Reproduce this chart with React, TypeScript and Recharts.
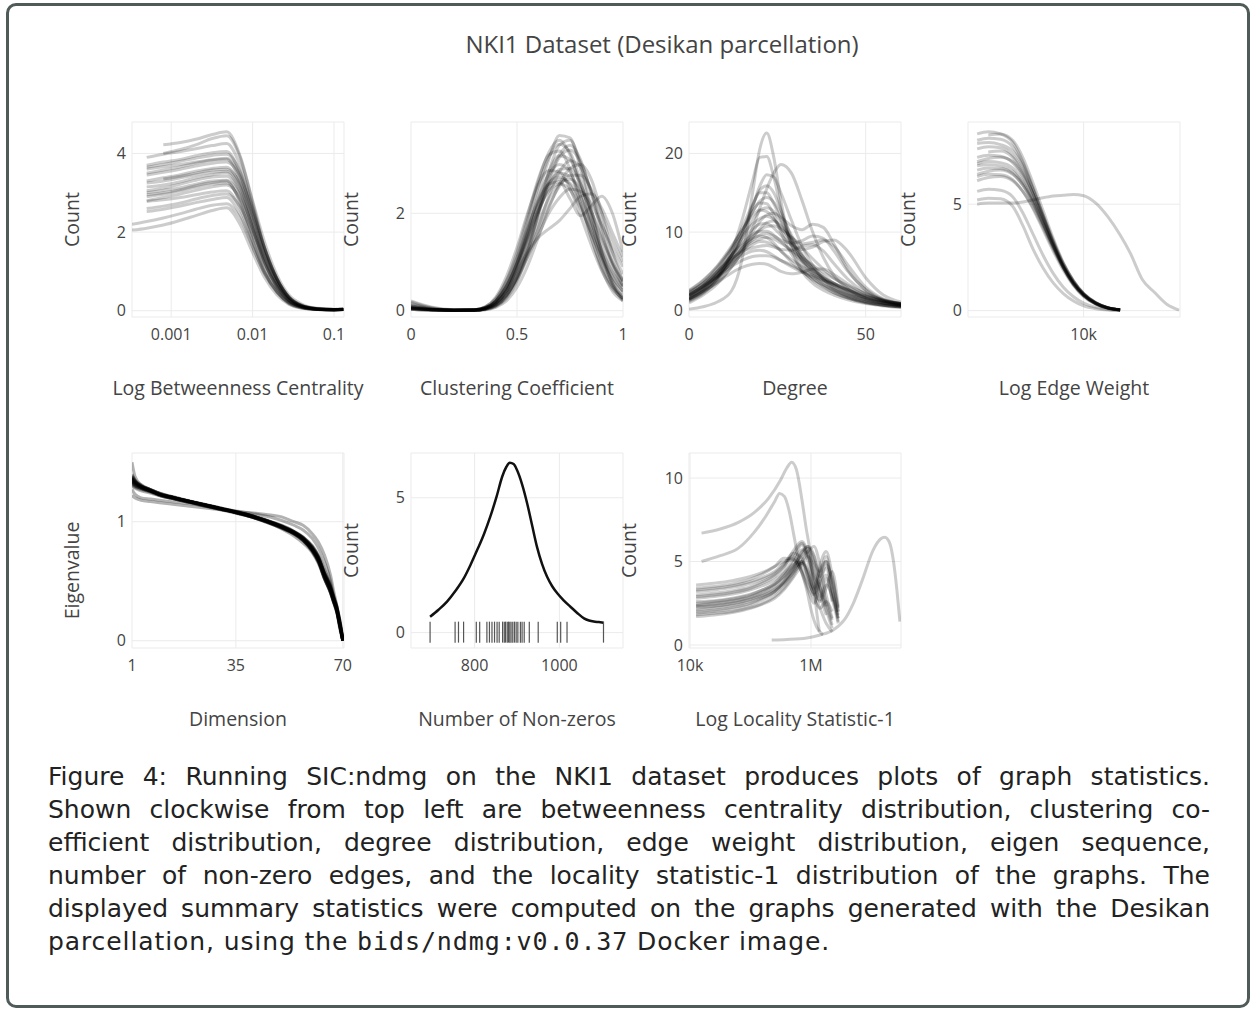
import React from 'react';
import { ComposedChart, XAxis, YAxis, CartesianGrid, Line, Scatter } from 'recharts';

// Log Betweenness Centrality
const betweennessX = [0.00033, 0.0005, 0.0008, 0.0013, 0.002, 0.0032, 0.0048, 0.007, 0.01, 0.014, 0.02, 0.028, 0.04, 0.063, 0.1, 0.13];
const betweennessCounts: (number | null)[][] = [
  [null, null, 4.22, 4.28, 4.36, 4.48, 4.55, 3.95, 2.8, 1.75, 0.9, 0.4, 0.17, 0.06, 0.04, 0.05],
  [null, null, 4.0, 4.1, 4.22, 4.38, 4.45, 3.9, 2.75, 1.6, 0.8, 0.35, 0.14, 0.05, 0.03, 0.04],
  [null, 3.7, 3.78, 3.85, 3.94, 4.02, 4.05, 3.5, 2.45, 1.45, 0.72, 0.3, 0.12, 0.05, 0.03, 0.04],
  [null, 3.65, 3.72, 3.8, 3.88, 3.95, 3.98, 3.55, 2.6, 1.6, 0.8, 0.33, 0.13, 0.05, 0.03, 0.03],
  [null, 3.5, 3.58, 3.66, 3.75, 3.83, 3.85, 3.3, 2.3, 1.35, 0.66, 0.27, 0.11, 0.04, 0.03, 0.04],
  [null, 3.45, 3.52, 3.6, 3.68, 3.75, 3.78, 3.4, 2.5, 1.55, 0.8, 0.34, 0.13, 0.05, 0.03, 0.04],
  [null, 3.3, 3.38, 3.46, 3.55, 3.62, 3.65, 3.2, 2.2, 1.25, 0.6, 0.25, 0.1, 0.04, 0.02, 0.03],
  [null, 3.25, 3.3, 3.38, 3.46, 3.52, 3.55, 3.15, 2.3, 1.45, 0.75, 0.32, 0.12, 0.04, 0.03, 0.04],
  [null, 3.05, 3.12, 3.22, 3.32, 3.4, 3.42, 3.0, 2.1, 1.25, 0.62, 0.26, 0.1, 0.04, 0.03, 0.03],
  [null, 3.0, 3.06, 3.13, 3.22, 3.3, 3.32, 2.95, 2.15, 1.35, 0.7, 0.3, 0.11, 0.04, 0.02, 0.03],
  [null, 2.9, 2.96, 3.05, 3.14, 3.22, 3.25, 2.8, 1.9, 1.1, 0.55, 0.22, 0.09, 0.03, 0.02, 0.03],
  [null, 2.8, 2.88, 2.97, 3.06, 3.15, 3.2, 2.85, 2.05, 1.3, 0.68, 0.28, 0.1, 0.04, 0.03, 0.03],
  [null, 2.78, 2.82, 2.88, 2.95, 3.02, 3.05, 2.6, 1.75, 1.0, 0.5, 0.2, 0.08, 0.03, 0.02, 0.03],
  [null, 2.6, 2.66, 2.74, 2.84, 2.93, 2.97, 2.65, 1.95, 1.2, 0.62, 0.26, 0.1, 0.04, 0.02, 0.03],
  [null, 2.52, 2.58, 2.66, 2.75, 2.83, 2.88, 2.45, 1.65, 0.95, 0.47, 0.19, 0.08, 0.03, 0.02, 0.03],
  [2.2, 2.27, 2.36, 2.47, 2.58, 2.68, 2.72, 2.35, 1.62, 0.95, 0.46, 0.18, 0.07, 0.03, 0.02, 0.03],
  [2.05, 2.1, 2.18, 2.3, 2.42, 2.55, 2.62, 2.2, 1.48, 0.85, 0.4, 0.16, 0.06, 0.03, 0.02, 0.03],
  [null, 3.9, 3.98, 4.05, 4.12, 4.2, 4.25, 3.7, 2.65, 1.6, 0.8, 0.34, 0.14, 0.05, 0.03, 0.04],
  [null, 3.6, 3.66, 3.72, 3.78, 3.84, 3.88, 3.45, 2.55, 1.6, 0.82, 0.35, 0.13, 0.05, 0.03, 0.04],
  [null, 3.15, 3.2, 3.28, 3.38, 3.46, 3.5, 3.05, 2.1, 1.2, 0.6, 0.25, 0.1, 0.04, 0.02, 0.03],
  [null, null, 3.35, 3.42, 3.5, 3.58, 3.6, 3.25, 2.4, 1.5, 0.78, 0.33, 0.12, 0.04, 0.03, 0.04],
  [null, 2.95, 3.0, 3.08, 3.18, 3.26, 3.3, 2.75, 1.8, 1.0, 0.48, 0.2, 0.08, 0.03, 0.02, 0.03],
];

// Clustering Coefficient
const clusteringX = [0, 0.1, 0.2, 0.3, 0.35, 0.4, 0.45, 0.5, 0.55, 0.6, 0.65, 0.7, 0.75, 0.8, 0.85, 0.9, 0.95, 1.0];
const clusteringCounts: number[][] = [
  [0.05, 0.02, 0.01, 0.01, 0.04, 0.15, 0.4, 0.9, 1.6, 2.4, 3.1, 3.6, 3.55, 2.9, 2.0, 1.2, 0.6, 0.25],
  [0.1, 0.03, 0.01, 0.02, 0.06, 0.2, 0.55, 1.1, 1.85, 2.65, 3.25, 3.5, 3.2, 2.5, 1.7, 1.0, 0.5, 0.22],
  [0.04, 0.02, 0.01, 0.01, 0.03, 0.1, 0.3, 0.7, 1.3, 2.0, 2.7, 3.2, 3.4, 3.1, 2.4, 1.6, 0.95, 0.5],
  [0.18, 0.06, 0.01, 0.02, 0.08, 0.25, 0.62, 1.2, 1.95, 2.7, 3.2, 3.28, 2.9, 2.2, 1.5, 0.9, 0.5, 0.3],
  [0.06, 0.02, 0.01, 0.01, 0.04, 0.14, 0.4, 0.85, 1.5, 2.2, 2.85, 3.18, 3.1, 2.6, 1.95, 1.3, 0.8, 0.45],
  [0.03, 0.01, 0.01, 0.01, 0.03, 0.1, 0.28, 0.62, 1.1, 1.7, 2.35, 2.85, 3.08, 2.95, 2.45, 1.8, 1.2, 0.75],
  [0.12, 0.04, 0.01, 0.02, 0.06, 0.2, 0.5, 1.0, 1.65, 2.3, 2.8, 3.0, 2.85, 2.35, 1.75, 1.15, 0.7, 0.4],
  [0.05, 0.02, 0.01, 0.01, 0.05, 0.15, 0.4, 0.82, 1.4, 2.0, 2.55, 2.9, 2.92, 2.6, 2.05, 1.45, 0.95, 0.6],
  [0.08, 0.03, 0.01, 0.02, 0.06, 0.2, 0.5, 0.98, 1.55, 2.15, 2.6, 2.83, 2.75, 2.35, 1.8, 1.25, 0.8, 0.5],
  [0.04, 0.02, 0.01, 0.01, 0.04, 0.12, 0.32, 0.68, 1.15, 1.65, 2.15, 2.55, 2.78, 2.78, 2.5, 2.0, 1.45, 1.0],
  [0.15, 0.05, 0.01, 0.02, 0.07, 0.24, 0.6, 1.1, 1.7, 2.25, 2.62, 2.75, 2.58, 2.15, 1.6, 1.05, 0.62, 0.35],
  [0.05, 0.02, 0.01, 0.01, 0.04, 0.13, 0.36, 0.75, 1.25, 1.8, 2.3, 2.6, 2.7, 2.5, 2.05, 1.5, 1.0, 0.62],
  [0.07, 0.02, 0.01, 0.02, 0.06, 0.2, 0.5, 0.95, 1.5, 2.05, 2.45, 2.6, 2.48, 2.1, 1.6, 1.1, 0.68, 0.4],
  [0.04, 0.02, 0.01, 0.01, 0.04, 0.12, 0.32, 0.66, 1.1, 1.55, 2.0, 2.32, 2.5, 2.45, 2.2, 1.75, 1.3, 0.9],
  [0.06, 0.02, 0.01, 0.01, 0.05, 0.18, 0.45, 0.95, 1.6, 2.2, 2.6, 2.65, 2.3, 1.95, 2.15, 2.35, 2.0, 1.2],
  [0.1, 0.03, 0.01, 0.02, 0.05, 0.16, 0.4, 0.8, 1.2, 1.5, 1.68, 1.85, 2.1, 2.35, 2.4, 2.1, 1.6, 1.1],
  [0.03, 0.01, 0.01, 0.01, 0.02, 0.08, 0.25, 0.6, 1.2, 2.0, 2.85, 3.4, 3.5, 3.0, 2.1, 1.2, 0.55, 0.2],
  [0.05, 0.02, 0.01, 0.01, 0.03, 0.1, 0.3, 0.68, 1.25, 1.95, 2.65, 3.15, 3.3, 3.05, 2.45, 1.7, 1.0, 0.52],
  [0.2, 0.07, 0.02, 0.02, 0.08, 0.28, 0.7, 1.3, 2.0, 2.6, 2.88, 2.85, 2.5, 1.95, 1.35, 0.82, 0.45, 0.25],
  [0.03, 0.01, 0.01, 0.01, 0.02, 0.07, 0.2, 0.48, 0.92, 1.5, 2.1, 2.6, 2.92, 3.0, 2.7, 2.0, 1.2, 0.6],
  [0.06, 0.02, 0.01, 0.01, 0.05, 0.16, 0.42, 0.88, 1.45, 2.05, 2.5, 2.7, 2.62, 2.2, 1.5, 0.85, 0.4, 0.2],
  [0.08, 0.03, 0.01, 0.01, 0.05, 0.18, 0.48, 1.0, 1.75, 2.55, 3.15, 3.42, 3.25, 2.65, 1.85, 1.1, 0.55, 0.25],
];

// Degree
const degreeX = [0, 4, 8, 12, 15, 18, 20, 22, 24, 26, 29, 32, 35, 38, 41, 45, 50, 55, 60];
const degreeCounts: number[][] = [
  [0.2, 0.5, 1.1, 2.5, 6.5, 15, 20.5, 22.6, 19.5, 14, 8, 5, 3.5, 2.6, 2.0, 1.4, 0.9, 0.6, 0.4],
  [1.2, 2.2, 4.0, 7.5, 11.5, 16.5, 19.5, 19.6, 17.0, 13.0, 8.5, 5.8, 4.2, 3.1, 2.3, 1.6, 1.0, 0.7, 0.5],
  [1.5, 2.4, 3.6, 5.5, 7.5, 10.5, 13.0, 15.5, 17.5, 18.6, 17.5, 14.0, 10.0, 6.8, 4.5, 2.8, 1.6, 1.0, 0.6],
  [1.8, 2.8, 4.4, 7.0, 9.8, 13.2, 15.8, 17.3, 17.0, 15.0, 11.5, 8.2, 5.8, 4.0, 2.8, 1.8, 1.1, 0.7, 0.5],
  [2.0, 3.2, 5.0, 7.8, 10.5, 13.5, 15.0, 15.0, 13.6, 11.6, 8.8, 6.5, 4.8, 3.6, 2.7, 1.9, 1.2, 0.8, 0.6],
  [2.3, 3.5, 5.4, 8.0, 10.2, 12.6, 13.9, 14.4, 13.8, 12.2, 9.6, 7.2, 5.3, 4.0, 3.0, 2.1, 1.4, 0.9, 0.6],
  [1.6, 2.8, 4.6, 7.0, 9.2, 11.5, 12.7, 13.1, 12.6, 11.3, 9.0, 7.0, 5.4, 4.2, 3.2, 2.2, 1.4, 0.9, 0.6],
  [1.4, 2.5, 4.0, 6.2, 8.0, 10.0, 11.3, 12.2, 12.4, 11.9, 10.8, 10.3, 11.0, 10.6, 8.5, 5.2, 2.6, 1.3, 0.8],
  [2.5, 3.8, 5.6, 7.8, 9.5, 11.0, 11.7, 12.0, 11.6, 10.6, 8.8, 7.0, 5.6, 4.5, 3.5, 2.5, 1.6, 1.0, 0.7],
  [1.8, 3.0, 4.7, 7.0, 8.8, 10.4, 11.0, 11.1, 10.5, 9.6, 8.4, 7.8, 8.1, 8.8, 9.0, 7.5, 4.2, 2.0, 1.1],
  [1.5, 2.6, 4.2, 6.3, 7.9, 9.4, 10.2, 10.7, 10.8, 10.4, 9.3, 8.0, 6.6, 5.3, 4.2, 3.0, 1.9, 1.2, 0.8],
  [2.2, 3.4, 5.0, 7.1, 8.5, 9.7, 10.1, 10.1, 9.6, 8.8, 7.5, 6.3, 5.2, 4.3, 3.5, 2.6, 1.7, 1.1, 0.8],
  [1.9, 3.0, 4.5, 6.5, 7.9, 9.0, 9.6, 9.8, 9.5, 9.0, 8.6, 8.9, 9.5, 9.2, 7.6, 5.0, 2.7, 1.4, 0.9],
  [2.0, 3.1, 4.6, 6.5, 7.7, 8.7, 9.1, 9.3, 9.1, 8.6, 7.7, 6.7, 5.8, 4.9, 4.1, 3.2, 2.2, 1.4, 0.9],
  [1.6, 2.7, 4.2, 6.1, 7.4, 8.4, 8.8, 8.7, 8.3, 7.6, 6.5, 5.6, 4.8, 4.1, 3.5, 2.7, 1.8, 1.2, 0.8],
  [2.4, 3.5, 5.0, 6.6, 7.5, 8.0, 8.2, 8.3, 8.1, 7.8, 7.7, 8.2, 8.4, 7.6, 6.0, 4.0, 2.3, 1.3, 0.9],
  [1.9, 3.0, 4.4, 6.0, 7.0, 7.6, 7.7, 7.5, 7.0, 6.4, 5.6, 4.9, 4.3, 3.8, 3.3, 2.6, 1.8, 1.2, 0.9],
  [2.1, 3.1, 4.3, 5.6, 6.4, 6.9, 7.0, 7.0, 6.8, 6.4, 5.8, 5.1, 4.5, 3.9, 3.4, 2.7, 1.9, 1.3, 0.9],
  [1.5, 2.5, 3.6, 4.8, 5.5, 5.9, 6.0, 5.9, 5.5, 5.0, 4.7, 4.9, 5.3, 5.3, 4.6, 3.4, 2.1, 1.3, 0.9],
  [1.3, 2.3, 3.9, 6.5, 9.4, 12.6, 13.7, 13.6, 12.2, 10.0, 7.2, 5.2, 3.9, 3.0, 2.3, 1.6, 1.0, 0.7, 0.5],
  [1.0, 2.0, 3.4, 5.6, 7.4, 9.3, 10.4, 11.2, 11.4, 10.8, 9.4, 8.5, 8.7, 9.0, 8.2, 5.8, 3.0, 1.5, 0.8],
  [2.6, 3.9, 5.7, 8.2, 10.2, 12.1, 12.8, 12.6, 11.7, 10.3, 8.3, 6.5, 5.1, 4.0, 3.2, 2.3, 1.5, 1.0, 0.7],
  [1.4, 2.5, 4.2, 7.0, 9.8, 13.3, 15.3, 15.9, 15.0, 12.8, 9.2, 6.4, 4.6, 3.4, 2.5, 1.7, 1.1, 0.7, 0.5],
  [2.0, 3.2, 4.9, 7.0, 8.3, 9.2, 9.5, 9.3, 8.6, 7.6, 6.2, 5.0, 4.0, 3.3, 2.7, 2.0, 1.4, 1.0, 0.7],
];

// Log Edge Weight
const edgeWeightX = [4750, 5300, 5900, 6500, 7000, 7500, 8000, 8500, 9000, 9500, 10000, 10600, 11200, 11800, 12300, 12900, 13500, 14100, 14700];
const edgeWeightCounts: (number | null)[][] = [
  [8.3, 8.4, 8.3, 7.9, 7.0, 5.8, 4.5, 3.2, 2.1, 1.3, 0.75, 0.35, 0.13, 0.04],
  [null, 8.25, 8.3, 8.0, 7.2, 6.0, 4.7, 3.4, 2.25, 1.4, 0.8, 0.38, 0.14, 0.04],
  [8.0, 8.1, 8.05, 7.7, 6.9, 5.7, 4.4, 3.15, 2.1, 1.3, 0.75, 0.34, 0.12, 0.03],
  [7.85, 7.9, 7.8, 7.5, 6.8, 5.7, 4.5, 3.3, 2.2, 1.4, 0.8, 0.37, 0.13, 0.04],
  [7.6, 7.7, 7.65, 7.3, 6.6, 5.5, 4.3, 3.1, 2.05, 1.25, 0.7, 0.32, 0.11, 0.03],
  [null, 7.45, 7.5, 7.2, 6.5, 5.5, 4.35, 3.2, 2.15, 1.35, 0.78, 0.36, 0.13, 0.04],
  [7.2, 7.3, 7.25, 6.95, 6.3, 5.3, 4.2, 3.05, 2.05, 1.25, 0.72, 0.33, 0.12, 0.03],
  [7.0, 7.15, 7.2, 7.0, 6.4, 5.5, 4.4, 3.25, 2.2, 1.38, 0.8, 0.37, 0.14, 0.04],
  [6.9, 7.0, 6.95, 6.7, 6.1, 5.2, 4.1, 3.0, 2.0, 1.22, 0.7, 0.32, 0.12, 0.03],
  [6.8, 6.85, 6.8, 6.55, 6.0, 5.15, 4.1, 3.05, 2.05, 1.3, 0.75, 0.35, 0.13, 0.04],
  [6.6, 6.7, 6.68, 6.45, 5.9, 5.05, 4.0, 2.95, 2.0, 1.25, 0.72, 0.33, 0.12, 0.03],
  [6.4, 6.55, 6.6, 6.4, 5.9, 5.1, 4.1, 3.05, 2.1, 1.32, 0.76, 0.35, 0.13, 0.04],
  [6.3, 6.4, 6.38, 6.15, 5.6, 4.8, 3.8, 2.8, 1.9, 1.18, 0.66, 0.3, 0.11, 0.03],
  [6.1, 6.25, 6.3, 6.1, 5.6, 4.85, 3.9, 2.9, 2.0, 1.25, 0.72, 0.33, 0.12, 0.03],
  [5.6, 5.7, 5.65, 5.35, 4.6, 3.6, 2.6, 1.75, 1.1, 0.65, 0.35, 0.15, 0.05, 0.02],
  [5.2, 5.28, 5.25, 4.9, 4.0, 2.9, 2.0, 1.3, 0.8, 0.45, 0.22, 0.09, 0.03, 0.01],
  [5.0, 5.05, 5.05, 5.05, 5.1, 5.2, 5.3, 5.38, 5.42, 5.45, 5.4, 5.05, 4.4, 3.55, 2.7, 1.45, 0.85, 0.3, 0.02],
];

// Eigen sequence
const dimensionX = [1, 2, 4, 7, 10, 15, 20, 25, 30, 35, 40, 45, 50, 54, 57, 60, 62, 64, 66, 67, 68, 69, 70];
const eigenvalues: number[][] = [
  [1.38, 1.34, 1.3, 1.27, 1.24, 1.2, 1.17, 1.14, 1.11, 1.08, 1.05, 1.01, 0.96, 0.91, 0.86, 0.77, 0.68, 0.54, 0.42, 0.34, 0.27, 0.15, 0.0],
  [1.33, 1.31, 1.28, 1.25, 1.22, 1.19, 1.16, 1.13, 1.105, 1.08, 1.045, 1.0, 0.95, 0.9, 0.84, 0.76, 0.67, 0.52, 0.4, 0.33, 0.26, 0.14, 0.0],
  [1.36, 1.33, 1.3, 1.27, 1.235, 1.2, 1.17, 1.14, 1.11, 1.075, 1.04, 1.0, 0.955, 0.905, 0.85, 0.76, 0.7, 0.56, 0.44, 0.35, 0.27, 0.14, 0.02],
  [1.31, 1.29, 1.27, 1.25, 1.22, 1.19, 1.16, 1.135, 1.11, 1.08, 1.05, 1.01, 0.97, 0.92, 0.87, 0.78, 0.69, 0.55, 0.43, 0.36, 0.28, 0.17, 0.01],
  [1.4, 1.35, 1.31, 1.27, 1.24, 1.205, 1.17, 1.14, 1.11, 1.08, 1.045, 1.0, 0.94, 0.88, 0.82, 0.74, 0.65, 0.52, 0.41, 0.33, 0.25, 0.12, 0.0],
  [1.34, 1.32, 1.29, 1.26, 1.23, 1.2, 1.17, 1.14, 1.115, 1.085, 1.055, 1.015, 0.965, 0.915, 0.86, 0.79, 0.71, 0.57, 0.46, 0.37, 0.29, 0.16, 0.02],
  [1.37, 1.34, 1.3, 1.26, 1.23, 1.195, 1.165, 1.135, 1.105, 1.075, 1.04, 0.995, 0.945, 0.9, 0.845, 0.75, 0.66, 0.53, 0.4, 0.32, 0.24, 0.12, 0.0],
  [1.3, 1.28, 1.26, 1.24, 1.22, 1.19, 1.165, 1.14, 1.11, 1.085, 1.05, 1.01, 0.965, 0.915, 0.865, 0.78, 0.7, 0.56, 0.44, 0.36, 0.29, 0.18, 0.03],
  [1.36, 1.33, 1.29, 1.26, 1.225, 1.19, 1.16, 1.13, 1.1, 1.07, 1.04, 1.0, 0.955, 0.91, 0.855, 0.77, 0.68, 0.55, 0.43, 0.34, 0.26, 0.13, 0.0],
  [1.33, 1.3, 1.28, 1.255, 1.23, 1.2, 1.17, 1.145, 1.115, 1.085, 1.05, 1.005, 0.955, 0.905, 0.855, 0.77, 0.69, 0.57, 0.45, 0.36, 0.27, 0.15, 0.01],
  [1.5, 1.38, 1.31, 1.27, 1.235, 1.2, 1.17, 1.14, 1.11, 1.08, 1.045, 1.005, 0.955, 0.905, 0.85, 0.76, 0.67, 0.53, 0.41, 0.33, 0.25, 0.13, 0.0],
  [1.35, 1.32, 1.29, 1.26, 1.23, 1.2, 1.17, 1.14, 1.11, 1.08, 1.05, 1.01, 0.96, 0.91, 0.87, 0.8, 0.72, 0.6, 0.47, 0.38, 0.3, 0.18, 0.02],
  [1.37, 1.33, 1.29, 1.26, 1.23, 1.2, 1.17, 1.14, 1.11, 1.08, 1.045, 1.005, 0.96, 0.91, 0.855, 0.77, 0.69, 0.55, 0.42, 0.34, 0.26, 0.14, 0.0],
  [1.32, 1.3, 1.28, 1.255, 1.225, 1.195, 1.165, 1.135, 1.105, 1.075, 1.045, 1.005, 0.96, 0.915, 0.865, 0.79, 0.71, 0.58, 0.45, 0.37, 0.29, 0.16, 0.01],
  [1.39, 1.35, 1.3, 1.265, 1.23, 1.195, 1.165, 1.135, 1.105, 1.075, 1.04, 0.995, 0.945, 0.895, 0.84, 0.75, 0.66, 0.52, 0.4, 0.32, 0.24, 0.12, 0.0],
  [1.35, 1.32, 1.29, 1.26, 1.23, 1.2, 1.17, 1.14, 1.11, 1.08, 1.05, 1.01, 0.965, 0.92, 0.87, 0.79, 0.7, 0.56, 0.44, 0.35, 0.28, 0.16, 0.02],
  [1.34, 1.31, 1.285, 1.26, 1.23, 1.2, 1.17, 1.14, 1.11, 1.08, 1.04, 1.0, 0.95, 0.9, 0.85, 0.76, 0.67, 0.54, 0.42, 0.33, 0.25, 0.13, 0.0],
  [1.36, 1.33, 1.3, 1.27, 1.24, 1.205, 1.175, 1.145, 1.115, 1.085, 1.05, 1.01, 0.96, 0.915, 0.86, 0.78, 0.7, 0.57, 0.45, 0.36, 0.27, 0.15, 0.01],
  [1.33, 1.31, 1.29, 1.26, 1.23, 1.2, 1.17, 1.14, 1.11, 1.08, 1.05, 1.005, 0.955, 0.905, 0.855, 0.77, 0.68, 0.55, 0.43, 0.35, 0.27, 0.15, 0.0],
  [1.38, 1.34, 1.3, 1.265, 1.23, 1.195, 1.165, 1.135, 1.105, 1.075, 1.04, 1.0, 0.95, 0.9, 0.845, 0.76, 0.67, 0.53, 0.41, 0.33, 0.25, 0.13, 0.0],
  [1.22, 1.2, 1.18, 1.17, 1.16, 1.145, 1.13, 1.115, 1.1, 1.085, 1.075, 1.06, 1.04, 1.0, 0.97, 0.9, 0.83, 0.72, 0.55, 0.42, 0.3, 0.14, 0.0],
  [1.27, 1.23, 1.2, 1.19, 1.18, 1.165, 1.15, 1.13, 1.11, 1.09, 1.07, 1.045, 1.01, 0.97, 0.93, 0.86, 0.78, 0.66, 0.5, 0.38, 0.26, 0.1, 0.0],
];

// Number of Non-zeros
const nonZerosX = [695, 715, 735, 755, 774, 790, 806, 822, 837, 852, 865, 875, 883, 892, 900, 912, 924, 936, 947, 959, 971, 983, 995, 1010, 1026, 1042, 1058, 1070, 1081, 1093, 1104];
const nonZerosDensity = [0.59, 0.85, 1.15, 1.55, 2.0, 2.5, 3.06, 3.65, 4.3, 5.05, 5.78, 6.15, 6.3, 6.25, 6.03, 5.5, 4.79, 3.95, 3.19, 2.55, 2.07, 1.72, 1.46, 1.2, 0.96, 0.73, 0.53, 0.45, 0.41, 0.39, 0.37];
const nonZerosRug = [695, 754, 762, 774, 804, 812, 829, 835, 841, 847, 853, 858, 866, 870, 873, 877, 880, 883, 886, 890, 894, 898, 902, 908, 912, 917, 929, 950, 995, 1003, 1018, 1104];

// Log Locality Statistic-1
const localityX = [12600, 25100, 50100, 100000, 158000, 251000, 355000, 501000, 708000, 891000, 1120000, 1410000, 1780000, 2240000, 2820000];
const localityCounts: (number | null)[][] = [
  [2.4, 2.5, 2.65, 2.9, 3.2, 3.6, 4.1, 4.8, 5.0, 4.2, 3.0, 3.8, 4.6, 3.2, 1.8],
  [3.6, 3.7, 3.85, 4.1, 4.35, 4.7, 5.0, 5.1, 4.3, 3.3, 2.5, 3.6, 4.2, 2.6],
  [1.7, 1.8, 1.95, 2.2, 2.45, 2.8, 3.3, 4.0, 4.8, 5.3, 4.6, 3.0, 1.8],
  [2.3, 2.35, 2.5, 2.75, 3.0, 3.35, 3.8, 4.5, 5.6, 5.9, 5.0, 4.4, 5.0, 3.8, 2.0],
  [3.2, 3.3, 3.45, 3.7, 3.95, 4.3, 4.8, 5.5, 5.2, 4.0, 3.1, 4.2, 5.3, 3.5, 1.4],
  [2.0, 2.1, 2.25, 2.5, 2.8, 3.2, 3.8, 4.6, 5.5, 5.9, 5.4, 4.0, 2.6, 1.5],
  [2.8, 2.9, 3.05, 3.3, 3.55, 3.9, 4.3, 4.9, 5.7, 5.3, 3.8, 2.6, 3.4, 4.4, 2.3],
  [2.5, 2.6, 2.75, 3.0, 3.3, 3.7, 4.3, 5.1, 6.0, 5.0, 3.6, 2.9, 4.0, 2.8, 1.3],
  [3.4, 3.5, 3.65, 3.95, 4.25, 4.7, 5.2, 5.15, 4.4, 3.5, 2.8, 2.2, 2.6, 2.0],
  [1.8, 1.9, 2.0, 2.25, 2.5, 2.9, 3.4, 4.1, 4.9, 4.4, 3.3, 4.5, 5.0, 3.2, 1.6],
  [2.2, 2.3, 2.45, 2.7, 2.95, 3.3, 3.7, 4.3, 5.0, 5.6, 5.9, 4.8, 3.0, 1.6],
  [3.0, 3.1, 3.25, 3.5, 3.8, 4.2, 4.7, 5.4, 6.1, 5.4, 4.0, 3.2, 2.1, 1.0],
  [2.6, 2.65, 2.8, 3.05, 3.3, 3.65, 4.1, 4.7, 5.4, 5.8, 5.3, 4.1, 4.8, 4.0, 2.2],
  [1.9, 2.0, 2.15, 2.4, 2.7, 3.1, 3.6, 4.3, 5.0, 4.5, 3.2, 2.2, 1.3, 0.8],
  [2.9, 3.0, 3.15, 3.4, 3.7, 4.1, 4.6, 5.6, 6.2, 5.5, 4.2, 3.5, 2.4, 1.2],
  [2.35, 2.45, 2.6, 2.85, 3.1, 3.5, 4.0, 4.6, 4.9, 4.2, 3.4, 4.8, 5.6, 4.2, 2.0],
  [3.3, 3.4, 3.55, 3.8, 4.05, 4.4, 4.9, 5.3, 4.6, 3.8, 3.1, 2.7, 3.6, 2.9, 1.6],
  [2.1, 2.2, 2.35, 2.6, 2.85, 3.2, 3.7, 4.4, 5.2, 5.6, 4.8, 3.4, 2.3],
];
const localityHighX = [15500, 31600, 63100, 112000, 200000, 316000, 398000, 479000, 575000, 708000, 832000, 955000, 1100000, 1230000, 1380000];
const localityHigh = [6.7, 6.95, 7.35, 7.9, 8.8, 9.9, 10.6, 10.95, 10.5, 8.7, 7.0, 5.7, 3.8, 2.1, 0.8];
const localityMidX = [15500, 31600, 63100, 112000, 178000, 251000, 302000, 363000, 437000, 513000, 631000, 851000, 1020000, 1230000, 1580000];
const localityMid = [5.0, 5.35, 5.8, 6.7, 7.7, 8.6, 9.08, 8.9, 8.0, 6.7, 5.0, 3.3, 2.0, 1.1, 0.6];
const localityLateX = [224000, 398000, 851000, 1410000, 2340000, 3550000, 5010000, 7080000, 10700000, 14100000, 16600000, 20000000, 22900000, 26300000, 29500000];
const localityLate = [0.3, 0.33, 0.42, 0.6, 0.9, 1.5, 2.5, 3.9, 5.7, 6.35, 6.45, 6.1, 5.1, 3.3, 1.4];

const captionLines = [
  'Figure 4:  Running SIC:ndmg on the NKI1 dataset produces plots of graph statistics.',
  'Shown clockwise from top left are betweenness centrality distribution, clustering co-',
  'efficient distribution, degree distribution, edge weight distribution, eigen sequence,',
  'number of non-zero edges, and the locality statistic-1 distribution of the graphs.  The',
  'displayed summary statistics were computed on the graphs generated with the Desikan',
];

type Series = { xs: number[]; ys: (number | null)[] };

const toPoints = (xs: number[], ys: (number | null)[]) =>
  xs.map((x, i) => ({ x, y: ys[i] })).filter((p) => p.y !== null && p.y !== undefined);

const PLOT_W = 212;
const PLOT_H = 195;
const PAD_L = 75;
const PAD_T = 10;
const PAD_R = 30;
const PAD_B = 90;
const TEXT = '#444';

type PanelProps = {
  left: number;
  top: number;
  xDomain: [number, number];
  yDomain: [number, number];
  xTicks: number[];
  yTicks: number[];
  xLog?: boolean;
  xFormat?: (v: number) => string;
  xTitle: string;
  yTitle: string;
  yTitleShift?: number;
  series: Series[];
  opacity?: number;
  solid?: boolean;
  rug?: number[];
};

const Panel = ({ left, top, xDomain, yDomain, xTicks, yTicks, xLog, xFormat, xTitle, yTitle, yTitleShift = 0, series, opacity = 0.2, solid, rug }: PanelProps) => {
  const xLabel = (props: any) => {
    const vb = props.viewBox || { x: 0, y: 0, width: 0, height: 0 };
    return (
      <text x={vb.x + vb.width / 2} y={vb.y + 70} textAnchor="middle" dominantBaseline="central" fill={TEXT} fontSize={19.5}>
        {xTitle}
      </text>
    );
  };
  const yLabel = (props: any) => {
    const vb = props.viewBox || { x: 0, y: 0, width: 0, height: 0 };
    const cx = vb.x + 14;
    const cy = vb.y + vb.height / 2 + yTitleShift;
    return (
      <text x={cx} y={cy} transform={`rotate(-90 ${cx} ${cy})`} textAnchor="middle" dominantBaseline="central" fill={TEXT} fontSize={19.5}>
        {yTitle}
      </text>
    );
  };

  return (
    <div style={{ position: 'absolute', left: left - PAD_L, top: top - PAD_T }}>
      <ComposedChart
        width={PAD_L + PLOT_W + PAD_R}
        height={PAD_T + PLOT_H + PAD_B}
        margin={{ top: PAD_T, right: PAD_R, bottom: PAD_B - 30, left: 0 }}
      >
        <CartesianGrid stroke="#ebebeb" strokeWidth={1} />
        <XAxis
          type="number"
          dataKey="x"
          scale={xLog ? 'log' : 'linear'}
          domain={xDomain}
          allowDataOverflow
          ticks={xTicks}
          interval={0}
          tickFormatter={xFormat}
          axisLine={false}
          tickLine={false}
          tickSize={0}
          tickMargin={12}
          height={30}
          tick={{ fill: TEXT, fontSize: 16 }}
          label={xLabel}
        />
        <YAxis
          type="number"
          domain={yDomain}
          allowDataOverflow
          ticks={yTicks}
          interval={0}
          width={PAD_L}
          axisLine={false}
          tickLine={false}
          tickSize={0}
          tickMargin={6}
          tick={{ fill: TEXT, fontSize: 16 }}
          label={yLabel}
        />
        {series.map((s, i) => (
          <Line
            key={i}
            data={toPoints(s.xs, s.ys)}
            dataKey="y"
            type="monotone"
            stroke={solid ? '#111' : '#000'}
            strokeOpacity={solid ? 1 : opacity}
            strokeWidth={solid ? 2.5 : 3}
            dot={false}
            activeDot={false}
            isAnimationActive={false}
          />
        ))}
        {rug && (
          <Scatter
            data={rug.map((x) => ({ x, y: 0 }))}
            dataKey="y"
            isAnimationActive={false}
            shape={(p: any) => <line x1={p.cx} x2={p.cx} y1={p.cy - 11} y2={p.cy + 10} stroke="#555" strokeWidth={1.2} />}
          />
        )}
      </ComposedChart>
    </div>
  );
};

const kFormat = (v: number) => (v >= 1000000 ? `${v / 1000000}M` : v >= 1000 ? `${v / 1000}k` : `${v}`);

const COLS = [132, 411, 689, 968];
const ROW1 = 122;
const ROW2 = 453;

export default function App() {
  return (
    <div style={{ position: 'absolute', left: 0, top: 0, width: 1251, height: 1014, background: '#fff', fontFamily: '"Open Sans", sans-serif' }}>
      <div
        style={{
          position: 'absolute',
          left: 6,
          top: 3,
          width: 1244,
          height: 1005,
          border: '3px solid #4f5b59',
          borderRadius: 10,
          boxSizing: 'border-box',
        }}
      />
      <div style={{ position: 'absolute', left: 0, width: 1324, top: 28, textAlign: 'center', fontSize: 24, color: TEXT, lineHeight: '32px' }}>
        NKI1 Dataset (Desikan parcellation)
      </div>

      <Panel
        left={COLS[0]}
        top={ROW1}
        xLog
        xDomain={[0.00033, 0.1327]}
        yDomain={[-0.16, 4.8]}
        xTicks={[0.001, 0.01, 0.1]}
        yTicks={[0, 2, 4]}
        xTitle="Log Betweenness Centrality"
        yTitle="Count"
        series={betweennessCounts.map((ys) => ({ xs: betweennessX, ys }))}
      />
      <Panel
        left={COLS[1]}
        top={ROW1}
        xDomain={[0, 1]}
        yDomain={[-0.13, 3.875]}
        xTicks={[0, 0.5, 1]}
        yTicks={[0, 2]}
        xTitle="Clustering Coefficient"
        yTitle="Count"
        series={clusteringCounts.map((ys) => ({ xs: clusteringX, ys }))}
      />
      <Panel
        left={COLS[2]}
        top={ROW1}
        xDomain={[0, 60]}
        yDomain={[-0.8, 24]}
        xTicks={[0, 50]}
        yTicks={[0, 10, 20]}
        xTitle="Degree"
        yTitle="Count"
        series={degreeCounts.map((ys) => ({ xs: degreeX, ys }))}
      />
      <Panel
        left={COLS[3]}
        top={ROW1}
        xDomain={[4300, 14750]}
        yDomain={[-0.3, 8.86]}
        xTicks={[10000]}
        yTicks={[0, 5]}
        xFormat={kFormat}
        xTitle="Log Edge Weight"
        yTitle="Count"
        series={edgeWeightCounts.map((ys) => ({ xs: edgeWeightX, ys }))}
      />
      <Panel
        left={COLS[0]}
        top={ROW2}
        xDomain={[1, 70.4]}
        yDomain={[-0.061, 1.577]}
        xTicks={[1, 35, 70]}
        yTicks={[0, 1]}
        xTitle="Dimension"
        yTitle="Eigenvalue"
        yTitleShift={20}
        opacity={0.3}
        series={eigenvalues.map((ys) => ({ xs: dimensionX, ys }))}
      />
      <Panel
        left={COLS[1]}
        top={ROW2}
        xDomain={[650, 1150]}
        yDomain={[-0.57, 6.66]}
        xTicks={[800, 1000]}
        yTicks={[0, 5]}
        xTitle="Number of Non-zeros"
        yTitle="Count"
        solid
        series={[{ xs: nonZerosX, ys: nonZerosDensity }]}
        rug={nonZerosRug}
      />
      <Panel
        left={COLS[2]}
        top={ROW2}
        xLog
        xDomain={[9620, 30760000]}
        yDomain={[-0.18, 11.5]}
        xTicks={[10000, 1000000]}
        yTicks={[0, 5, 10]}
        xFormat={kFormat}
        xTitle="Log Locality Statistic-1"
        yTitle="Count"
        series={[
          ...localityCounts.map((ys) => ({ xs: localityX, ys })),
          { xs: localityHighX, ys: localityHigh },
          { xs: localityMidX, ys: localityMid },
          { xs: localityLateX, ys: localityLate },
        ]}
      />

      <div style={{ position: 'absolute', left: 48, top: 760, width: 1162, fontFamily: '"DejaVu Sans", sans-serif', fontSize: 25, color: '#222' }}>
        {captionLines.map((line, i) => (
          <div key={i} style={{ whiteSpace: 'nowrap', textAlign: 'justify', textAlignLast: 'justify', height: 33, lineHeight: '33px' }}>
            {line}
          </div>
        ))}
        <div style={{ whiteSpace: 'nowrap', height: 33, lineHeight: '33px', letterSpacing: 0.9 }}>
          parcellation, using the <span style={{ fontFamily: '"DejaVu Sans Mono", monospace' }}>bids/ndmg:v0.0.37</span> Docker image.
        </div>
      </div>
    </div>
  );
}
